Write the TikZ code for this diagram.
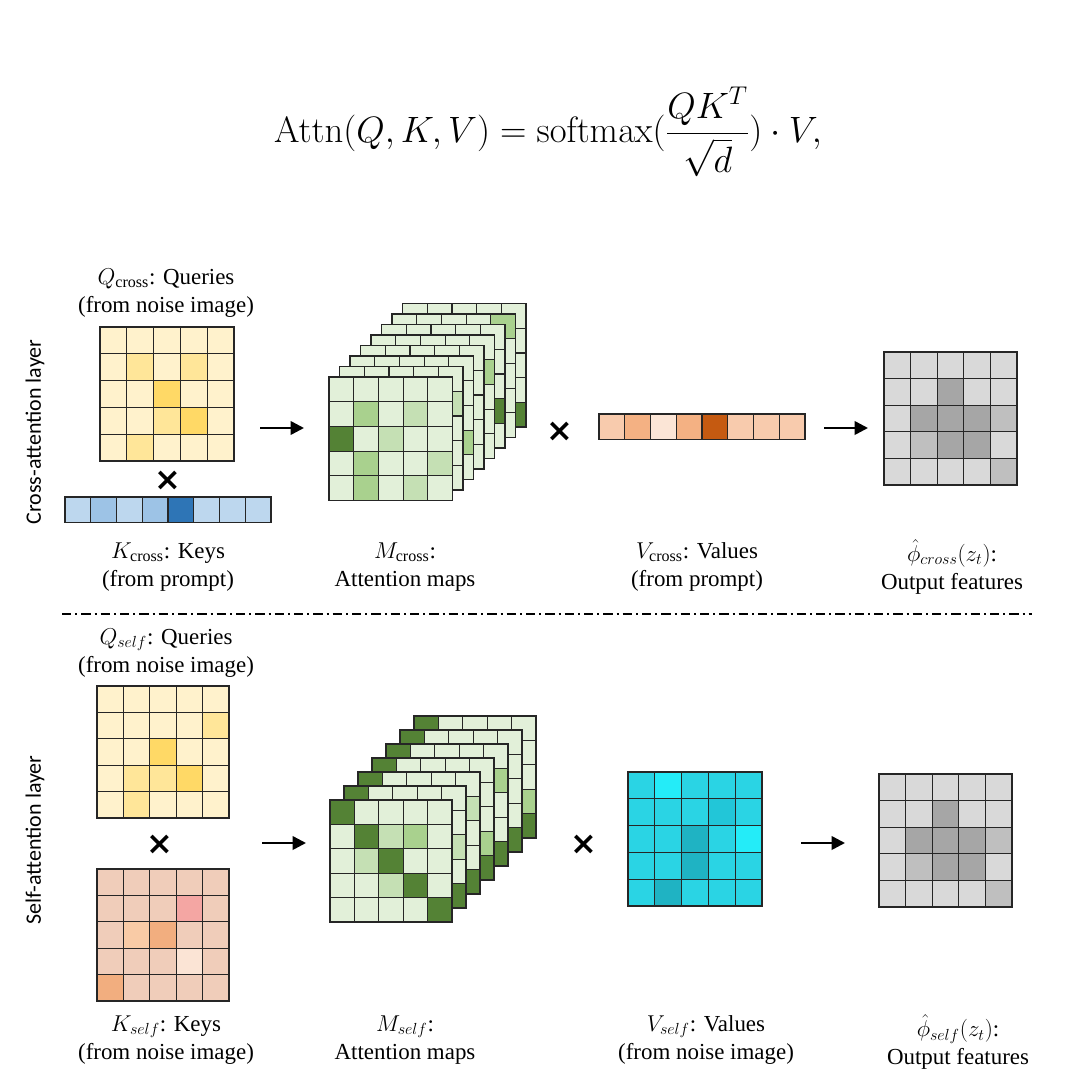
\RequirePackage{fix-cm}
\documentclass[tikz,border=0pt]{standalone}
\usepackage{amsmath}
\usepackage[no-math]{fontspec}
\setmainfont{Liberation Serif}
\newfontfamily\carl{Carlito}
\newfontfamily\symf{DejaVu Sans}
\usetikzlibrary{arrows.meta}
% colours
\definecolor{y0}{HTML}{FFF2CC}\definecolor{y1}{HTML}{FFE699}\definecolor{y2}{HTML}{FFD966}
\definecolor{b0}{HTML}{BDD7EE}\definecolor{b1}{HTML}{9DC3E6}\definecolor{b2}{HTML}{2E75B6}
\definecolor{o0}{HTML}{F8CBAD}\definecolor{o1}{HTML}{F4B183}\definecolor{o2}{HTML}{FBE5D6}\definecolor{o3}{HTML}{C55A11}
\definecolor{g0}{HTML}{E2F0D9}\definecolor{g1}{HTML}{C5E0B4}\definecolor{g2}{HTML}{A9D18E}\definecolor{g3}{HTML}{548235}
\definecolor{p0}{HTML}{F0CDBA}\definecolor{pk}{HTML}{F4A6A3}\definecolor{p1}{HTML}{F9CBA6}\definecolor{p2}{HTML}{F2AE7F}\definecolor{p3}{HTML}{FBE4D5}
\definecolor{c0}{HTML}{2AD4E4}\definecolor{c1}{HTML}{24ECF8}\definecolor{c2}{HTML}{22C6D8}\definecolor{c3}{HTML}{1FB3C3}
\definecolor{r0}{HTML}{D9D9D9}\definecolor{r1}{HTML}{BFBFBF}\definecolor{r2}{HTML}{A6A6A6}
\definecolor{edge}{HTML}{262626}
\tikzset{
  cellb/.style={draw=edge, line width=0.9pt},
  arr/.style={line width=1.9pt, -{Triangle[length=10pt,width=10pt]}},
  lab/.style={align=center, font=\fontsize{17.2}{21}\selectfont, inner sep=0pt},
  side/.style={rotate=90, font=\carl\fontsize{16.5}{20}\selectfont},
  times/.style={font=\symf\bfseries\fontsize{24}{24}\selectfont, inner sep=0pt},
}
% grid: x, y (top-left), cell, ncols, colour list
\newcommand\cgrid[5]{%
  \foreach \cc [count=\ii from 0] in {#5}{%
    \pgfmathtruncatemacro\rr{floor(\ii/#4)}%
    \pgfmathtruncatemacro\kk{\ii-\rr*#4}%
    \filldraw[cellb, fill=\cc] ({#1+\kk*#3},{#2+\rr*#3}) rectangle ++(#3,#3);
  }}
\newcommand\hcell[6]{\filldraw[cellb, fill=#6] ({#1+#5*#3},{#2+#4*#3}) rectangle ++(#3,#3);}
\newcommand\lgrid[3]{\cgrid{#1}{#2}{#3}{5}{g0,g0,g0,g0,g0,g0,g0,g0,g0,g0,g0,g0,g0,g0,g0,g0,g0,g0,g0,g0,g0,g0,g0,g0,g0}}
\newcommand\dgrid[3]{\cgrid{#1}{#2}{#3}{5}{g3,g0,g0,g0,g0,g0,g3,g0,g0,g0,g0,g0,g3,g0,g0,g0,g0,g0,g3,g0,g0,g0,g0,g0,g3}}
\begin{document}
\begin{tikzpicture}[x=0.75pt,y=-0.75pt]
\fill[white] (0,0) rectangle (1080,1087);
\useasboundingbox (0,0) rectangle (1080,1087);

% formula
\node[anchor=base, font=\fontsize{27.5}{32}\selectfont] (eq) at (548,143)
  {$\displaystyle \mathrm{Attn}(Q,K,V)=\mathrm{softmax}(\frac{QK^T}{\sqrt{d}})\cdot V,$};

% side labels
\node[side] (sc) at (35,432) {Cross-attention layer};
\node[side] (ss) at (35,840) {Self-attention layer};

% separator
\coordinate (sepL) at (62,614);
\coordinate (sepR) at (1032,614);
\draw[line width=0.8pt, dash pattern=on 7pt off 3pt on 1.5pt off 3pt] (sepL) -- (sepR);

%%%%%%%% cross-attention row
% Q cross
\cgrid{100}{327}{26.8}{5}{y0,y0,y0,y0,y0,y0,y1,y0,y1,y0,y0,y0,y2,y0,y0,y0,y0,y1,y2,y0,y0,y1,y0,y0,y0}
% K cross bar
\cgrid{65}{497}{25.75}{8}{b0,b1,b0,b1,b2,b0,b0,b0}
\node[times] (x1) at (168,481) {×};
% M cross stack
\lgrid{402.5}{303.5}{24.7}\hcell{402.5}{303.5}{24.7}{4}{4}{g3}
\lgrid{392}{314}{24.7}\hcell{392}{314}{24.7}{0}{4}{g2}
\lgrid{381.5}{324.5}{24.7}\hcell{381.5}{324.5}{24.7}{3}{4}{g3}
\lgrid{371}{335}{24.7}\hcell{371}{335}{24.7}{1}{4}{g2}
\lgrid{360.5}{345.5}{24.7}
\lgrid{350}{356}{24.7}\hcell{350}{356}{24.7}{3}{4}{g2}
\lgrid{339.5}{366.5}{24.7}\hcell{339.5}{366.5}{24.7}{1}{4}{g1}
\cgrid{329}{377}{24.7}{5}{g0,g0,g0,g0,g0,g0,g2,g0,g1,g0,g3,g0,g1,g0,g0,g0,g2,g0,g0,g1,g0,g2,g0,g1,g0}
\node[times] (x2) at (560,432) {×};
% V cross bar
\cgrid{599}{414}{25.75}{8}{o0,o1,o2,o1,o3,o0,o0,o0}
% output cross
\cgrid{884}{352}{26.6}{5}{r0,r0,r0,r0,r0,r0,r0,r2,r0,r0,r0,r2,r2,r2,r1,r0,r1,r2,r2,r0,r0,r0,r0,r0,r1}
% arrows
\coordinate (a1s) at (260,428); \coordinate (a1e) at (304,428);
\coordinate (a2s) at (824,428); \coordinate (a2e) at (868,428);
\draw[arr] (a1s) -- (a1e);
\draw[arr] (a2s) -- (a2e);
% labels
\node[lab] (lqc) at (166,293) {$Q_{\text{cross}}$: Queries\\(from noise image)};
\node[lab] (lkc) at (168,567) {$K_{\text{cross}}$: Keys\\(from prompt)};
\node[lab] (lmc) at (405,567) {$M_{\text{cross}}$:\\Attention maps};
\node[lab] (lvc) at (697,567) {$V_{\text{cross}}$: Values\\(from prompt)};
\node[lab] (loc) at (952,567) {$\hat{\phi}_{cross}(z_t)$:\\Output features};

%%%%%%%% self-attention row
\cgrid{97}{686}{26.4}{5}{y0,y0,y0,y0,y0,y0,y0,y0,y0,y1,y0,y0,y2,y0,y0,y0,y1,y1,y2,y0,y0,y1,y0,y0,y0}
\node[times] (x3) at (160,845) {×};
\cgrid{97}{869}{26.4}{5}{p0,p0,p0,p0,p0,p0,p0,p0,pk,p0,p0,p1,p2,p0,p0,p0,p0,p0,p3,p0,p2,p0,p0,p0,p0}
% M self stack
\dgrid{414}{716}{24.4}\hcell{414}{716}{24.4}{3}{4}{g2}
\dgrid{400}{730}{24.4}
\dgrid{386}{744}{24.4}\hcell{386}{744}{24.4}{1}{4}{g2}
\dgrid{372}{758}{24.4}\hcell{372}{758}{24.4}{3}{4}{g2}
\dgrid{358}{772}{24.4}\hcell{358}{772}{24.4}{1}{4}{g1}
\dgrid{344}{786}{24.4}\hcell{344}{786}{24.4}{2}{4}{g1}
\cgrid{330}{800}{24.4}{5}{g3,g0,g0,g0,g0,g0,g3,g1,g2,g0,g0,g1,g3,g0,g0,g0,g0,g1,g3,g0,g0,g0,g0,g0,g3}
\node[times] (x4) at (584,845) {×};
% V self
\cgrid{628}{772}{26.8}{5}{c0,c1,c0,c0,c0,c0,c0,c0,c2,c0,c0,c0,c3,c0,c1,c0,c0,c3,c0,c0,c0,c3,c0,c0,c0}
% output self
\cgrid{879}{774}{26.6}{5}{r0,r0,r0,r0,r0,r0,r0,r2,r0,r0,r0,r2,r2,r2,r1,r0,r1,r2,r2,r0,r0,r0,r0,r0,r1}
\coordinate (a3s) at (262,843); \coordinate (a3e) at (306,843);
\coordinate (a4s) at (801,843); \coordinate (a4e) at (845,843);
\draw[arr] (a3s) -- (a3e);
\draw[arr] (a4s) -- (a4e);
\node[lab] (lqs) at (166,653) {$Q_{self}$: Queries\\(from noise image)};
\node[lab] (lks) at (166,1040) {$K_{self}$: Keys\\(from noise image)};
\node[lab] (lms) at (405,1040) {$M_{self}$:\\Attention maps};
\node[lab] (lvs) at (706,1040) {$V_{self}$: Values\\(from noise image)};
\node[lab] (los) at (958,1042) {$\hat{\phi}_{self}(z_t)$:\\Output features};
\end{tikzpicture}
\end{document}
